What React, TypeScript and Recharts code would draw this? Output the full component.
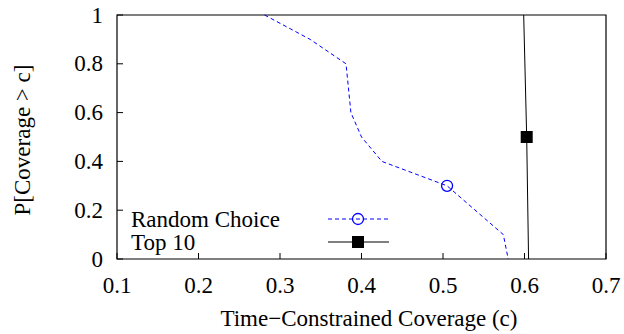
import React from 'react';
import { LineChart, Line, XAxis, YAxis, ReferenceArea } from 'recharts';

// Random Choice curve (x = coverage, y = P[Coverage > c])
const randomX = [0.281, 0.337, 0.381, 0.387, 0.4, 0.425, 0.505, 0.574, 0.58];
const randomY = [1, 0.9, 0.8, 0.6, 0.5, 0.4, 0.3, 0.1, 0];
const randomMarkerIdx = 6;

// Top 10 curve
const topX = [0.599, 0.6027, 0.605];
const topY = [1, 0.5, 0];
const topMarkerIdx = 1;

const xTicks = [0.1, 0.2, 0.3, 0.4, 0.5, 0.6, 0.7];
const yTicks = [0, 0.2, 0.4, 0.6, 0.8, 1];

const randomData = randomX.map((x, i) => ({ x, y: randomY[i] }));
const topData = topX.map((x, i) => ({ x, y: topY[i] }));

const FONT = 'Liberation Serif, Times New Roman, Times, serif';
const FS = 23;
const BLUE = '#0000ff';
const txt = { fontFamily: FONT, fontSize: FS, fill: '#000' };

const XTick = (props: any) => {
  const { x, y, payload } = props;
  return (
    <g>
      <line x1={x} y1={y} x2={x} y2={y - 6} stroke="#000" />
      <text x={x} y={y + 26} textAnchor="middle" dominantBaseline="central" style={txt}>
        {String(payload.value)}
      </text>
    </g>
  );
};

const YTick = (props: any) => {
  const { x, y, payload } = props;
  return (
    <g>
      <line x1={x} y1={y} x2={x + 6} y2={y} stroke="#000" />
      <text x={x - 14} y={y} textAnchor="end" dominantBaseline="central" style={txt}>
        {String(payload.value)}
      </text>
    </g>
  );
};

const randomDot = (props: any) => {
  const { cx, cy, index } = props;
  if (index !== randomMarkerIdx) return <g key={`rd-${index}`} />;
  return <circle key={`rd-${index}`} cx={cx} cy={cy} r={5.5} fill="none" stroke={BLUE} strokeWidth={1.3} />;
};

const topDot = (props: any) => {
  const { cx, cy, index } = props;
  if (index !== topMarkerIdx) return <g key={`td-${index}`} />;
  return <rect key={`td-${index}`} x={cx - 6} y={cy - 6} width={12} height={12} fill="#000" />;
};

export default function App() {
  return (
    <div style={{ position: 'absolute', left: 0, top: 0, width: 624, height: 334, background: '#fff' }}>
      <LineChart width={624} height={334} margin={{ top: 15, right: 18, left: 0, bottom: 0 }}>
        <XAxis
          type="number"
          dataKey="x"
          domain={[0.1, 0.7]}
          ticks={xTicks}
          height={75}
          tickSize={0}
          tickMargin={0}
          axisLine={false}
          tickLine={false}
          tick={<XTick />}
          interval={0}
          allowDataOverflow
        />
        <YAxis
          type="number"
          dataKey="y"
          domain={[0, 1]}
          ticks={yTicks}
          width={117}
          tickSize={0}
          tickMargin={0}
          axisLine={false}
          tickLine={false}
          tick={<YTick />}
          interval={0}
        />
        <ReferenceArea x1={0.1} x2={0.7} y1={0} y2={1} fill="none" stroke="#000" strokeWidth={1.2} />
        <Line
          data={randomData}
          dataKey="y"
          type="linear"
          stroke={BLUE}
          strokeWidth={1}
          strokeDasharray="4 3"
          dot={randomDot}
          activeDot={false}
          isAnimationActive={false}
        />
        <Line
          data={topData}
          dataKey="y"
          type="linear"
          stroke="#000"
          strokeWidth={1}
          dot={topDot}
          activeDot={false}
          isAnimationActive={false}
        />
      </LineChart>
      <svg width={624} height={334} style={{ position: 'absolute', left: 0, top: 0, pointerEvents: 'none' }}>
        <g style={txt}>
          <text x={131} y={219} dominantBaseline="central" style={txt}>Random Choice</text>
          <text x={131} y={242} dominantBaseline="central" style={txt}>Top 10</text>
          <text x={369} y={318} textAnchor="middle" dominantBaseline="central" style={txt}>
            Time−Constrained Coverage (c)
          </text>
          <text x={22} y={140} textAnchor="middle" dominantBaseline="central" transform="rotate(-90 22 140)" style={txt}>
            P[Coverage &gt; c]
          </text>
        </g>
        <line x1={328} y1={219} x2={389} y2={219} stroke={BLUE} strokeWidth={1} strokeDasharray="4 3" />
        <circle cx={358} cy={219} r={5.5} fill="none" stroke={BLUE} strokeWidth={1.3} />
        <line x1={328} y1={242} x2={389} y2={242} stroke="#000" strokeWidth={1} />
        <rect x={352} y={236} width={12} height={12} fill="#000" />
      </svg>
    </div>
  );
}
